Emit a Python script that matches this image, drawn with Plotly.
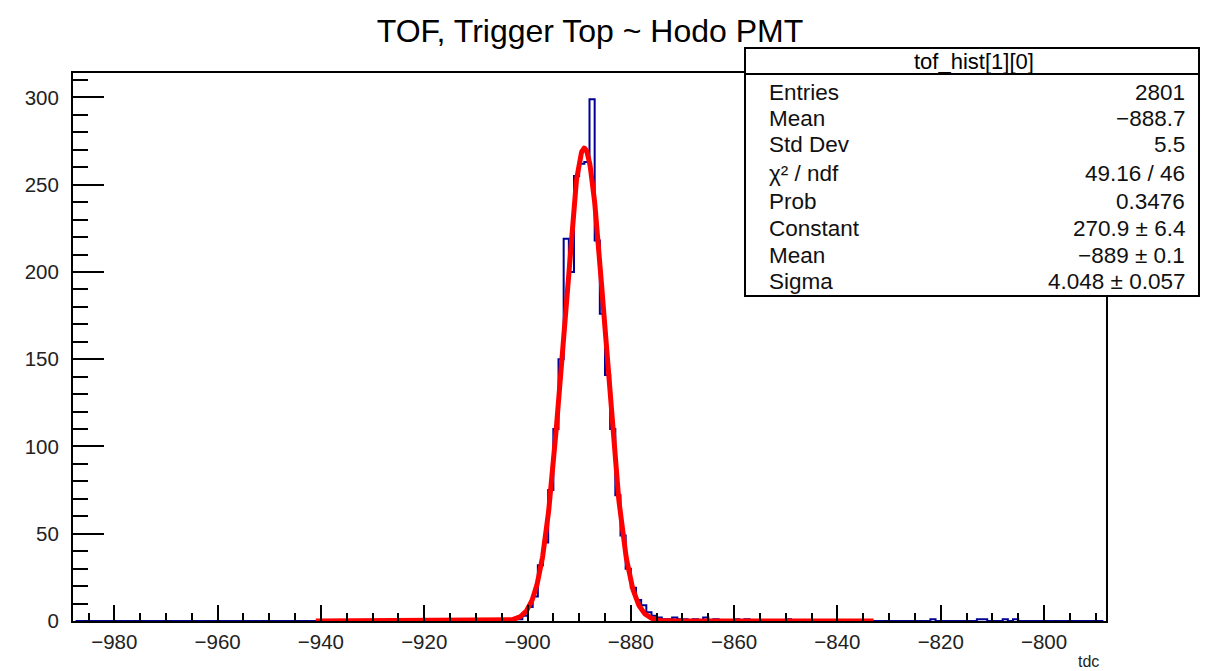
import numpy as np
import plotly.graph_objects as go

# ---------------- data ----------------
x_min, x_max, n_bins = -988, -788, 200
bin_lows = [-903, -902, -901, -900, -899, -898, -897, -896, -895, -894,
            -893, -892, -891, -890, -889, -888, -887, -886, -885, -884,
            -883, -882, -881, -880, -879, -878, -877, -876, -875, -874,
            -873, -872, -871, -870, -868, -866, -864, -860, -858, -850,
            -822, -813, -812, -808, -806]
counts = [1, 1, 3, 8, 14, 32, 45, 75, 110, 150,
          219, 200, 255, 262, 263, 299, 218, 176, 141, 110,
          72, 49, 30, 19, 12, 9, 5, 3, 2, 1,
          1, 2, 1, 1, 1, 2, 1, 1, 1, 1,
          1, 1, 1, 1, 1]

fit_const, fit_mean, fit_sigma = 270.9, -889.0, 4.048
fit_lo, fit_hi = -941.0, -833.0

title = "TOF, Trigger Top ~ Hodo PMT"
stats_name = "tof_hist[1][0]"
stats_labels = ["Entries", "Mean", "Std Dev", "χ² / ndf", "Prob",
                "Constant", "Mean", "Sigma"]
stats_values = ["2801", "−888.7", "5.5", "49.16 / 46", "0.3476",
                "270.9 ± 6.4", "−889 ± 0.1", "4.048 ± 0.057"]

# ---------------- build ----------------
edges = np.linspace(x_min, x_max, n_bins + 1)
centers = (edges[:-1] + edges[1:]) / 2
h = np.zeros(n_bins)
for lo, c in zip(bin_lows, counts):
    h[int(round(lo - x_min))] = c

xf = np.linspace(fit_lo, fit_hi, 1200)
yf = fit_const * np.exp(-0.5 * ((xf - fit_mean) / fit_sigma) ** 2)

FONT = "Liberation Sans, Arial, Helvetica, sans-serif"
W, H = 1218, 671
L, R, T, B = 73, 1106, 73, 621

def px(xp):
    return (xp - L) / (R - L)

def py(yp):
    return (B - yp) / (B - T)

fig = go.Figure()
fig.add_trace(go.Scatter(x=centers, y=h, mode="lines",
                         line=dict(color="#000099", width=2, shape="hvh"),
                         hoverinfo="skip", showlegend=False))
fig.add_trace(go.Scatter(x=xf, y=yf, mode="lines",
                         line=dict(color="#ff0000", width=5),
                         hoverinfo="skip", showlegend=False))

# stats box
bx0, bx1, by0, by1, bhead = 745, 1199, 48, 296, 74
shapes = [
    dict(type="rect", xref="paper", yref="paper", x0=px(bx0), x1=px(bx1),
         y0=py(by1), y1=py(by0), fillcolor="white",
         line=dict(color="black", width=2), layer="above"),
    dict(type="line", xref="paper", yref="paper", x0=px(bx0), x1=px(bx1),
         y0=py(bhead), y1=py(bhead), line=dict(color="black", width=2), layer="above"),
]
annotations = [
    dict(text=stats_name, xref="paper", yref="paper", x=px(974), y=py(61.5),
         xanchor="center", yanchor="middle", showarrow=False,
         font=dict(family=FONT, size=22, color="black")),
    dict(text="tdc", xref="paper", yref="paper", x=px(1101), y=py(661),
         xanchor="right", yanchor="middle", showarrow=False,
         font=dict(family=FONT, size=16, color="#222")),
]
row_y = [92, 119, 145, 173, 201, 228, 255, 281]
for lab, val, yy in zip(stats_labels, stats_values, row_y):
    annotations.append(dict(text=lab, xref="paper", yref="paper", x=px(767), y=py(yy),
                            xanchor="left", yanchor="middle", showarrow=False,
                            font=dict(family=FONT, size=22.5, color="#111")))
    annotations.append(dict(text=val, xref="paper", yref="paper", x=px(1187), y=py(yy),
                            xanchor="right", yanchor="middle", showarrow=False,
                            font=dict(family=FONT, size=22.5, color="#111")))

fig.update_layout(
    width=W, height=H,
    margin=dict(l=L, r=W - R, t=T, b=H - B, pad=0),
    paper_bgcolor="white", plot_bgcolor="white",
    title=dict(text=title, x=590 / W, xref="container", xanchor="center",
               y=1 - 31 / H, yref="container", yanchor="middle",
               font=dict(family=FONT, size=32, color="black")),
    shapes=shapes, annotations=annotations,
    xaxis=dict(range=[x_min, x_max], showgrid=False, zeroline=False,
               showline=True, linecolor="black", linewidth=2, mirror=True,
               ticks="inside", ticklen=16, tickwidth=2, tickcolor="black",
               tick0=-980, dtick=20, ticklabelstandoff=1,
               tickfont=dict(family=FONT, size=20.5, color="#222"),
               minor=dict(ticks="inside", dtick=5, tick0=-980, ticklen=8,
                          tickwidth=2, tickcolor="black")),
    yaxis=dict(range=[0, 314], showgrid=False, zeroline=False,
               showline=True, linecolor="black", linewidth=2, mirror=True,
               ticks="inside", ticklen=31, tickwidth=2, tickcolor="black",
               tick0=0, dtick=50, ticklabelstandoff=8,
               tickfont=dict(family=FONT, size=20.5, color="#222"),
               minor=dict(ticks="inside", dtick=10, tick0=0, ticklen=15,
                          tickwidth=2, tickcolor="black")),
)

fig.write_html("out.html")
